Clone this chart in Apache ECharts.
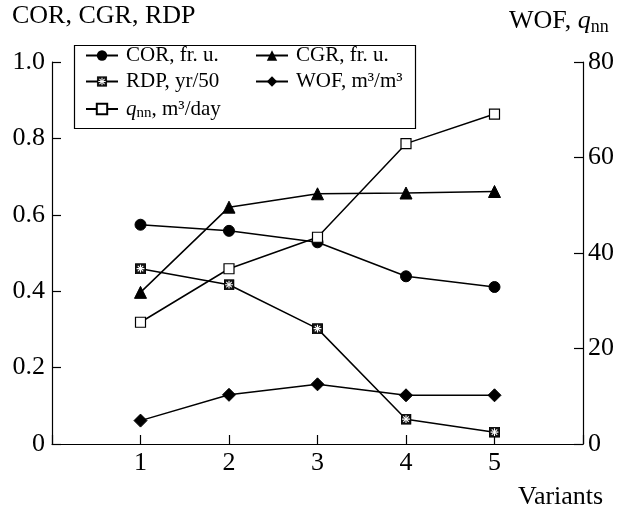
<!DOCTYPE html>
<html><head><meta charset="utf-8">
<script src="https://cdn.jsdelivr.net/npm/echarts@6/dist/echarts.min.js"></script>
<style>html,body{margin:0;padding:0;background:#fff}#c{width:623px;height:512px}</style>
</head><body><div id="c"></div>
<script>
const variants = [1, 2, 3, 4, 5];
const cor = [0.574, 0.558, 0.528, 0.439, 0.411];
const cgr = [0.397, 0.620, 0.655, 0.657, 0.661];
const rdp = [0.459, 0.417, 0.302, 0.065, 0.031];
const wof = [4.9, 10.3, 12.5, 10.2, 10.2];
const qnn = [25.5, 36.7, 43.3, 62.9, 69.1];
const leftTicks = [0, 0.2, 0.4, 0.6, 0.8, 1.0];
const rightTicks = [0, 20, 40, 60, 80];

const FONT = 'Liberation Serif';
const pts = arr => variants.map((v, i) => [v, arr[i]]);
const starSvg = "<svg xmlns='http://www.w3.org/2000/svg' width='24' height='24' viewBox='0 0 24 24'><rect x='1' y='1' width='22' height='22' fill='#111' stroke='#000' stroke-width='2'/><g stroke='#fff' stroke-width='2.4'><line x1='12' y1='3.5' x2='12' y2='20.5'/><line x1='3.5' y1='12' x2='20.5' y2='12'/><line x1='6' y1='6' x2='18' y2='18'/><line x1='18' y1='6' x2='6' y2='18'/></g></svg>";
const starSym = 'image://data:image/svg+xml;charset=utf-8,' + encodeURIComponent(starSvg);

const rich = {
  t: {fontFamily: FONT, fontSize: 21, color: '#000', lineHeight: 22},
  q: {fontFamily: FONT, fontSize: 21, fontStyle: 'italic', color: '#000', lineHeight: 22},
  sub: {fontFamily: FONT, fontSize: 15, color: '#000', lineHeight: 14, padding: [9, 0, 0, 0]}
};
const richBig = {
  t: {fontFamily: FONT, fontSize: 26, color: '#000', lineHeight: 28},
  q: {fontFamily: FONT, fontSize: 26, fontStyle: 'italic', color: '#000', lineHeight: 28},
  sub: {fontFamily: FONT, fontSize: 18, color: '#000', lineHeight: 18, padding: [11, 0, 0, 0]}
};

const lineBase = {
  type: 'line', symbolSize: 11, showSymbol: true,
  lineStyle: {color: '#000', width: 1.5},
  itemStyle: {color: '#000', borderColor: '#000'},
  emphasis: {disabled: true}, animation: false
};
const axisText = {fontFamily: FONT, fontSize: 26, color: '#000'};

const chart = echarts.init(document.getElementById('c'));
chart.setOption({
  backgroundColor: '#fff',
  animation: false,
  grid: {left: 52, right: 40, top: 62, bottom: 68},
  xAxis: {
    type: 'value', min: 0, max: 6, interval: 1,
    axisLine: {lineStyle: {color: '#000', width: 1.2}},
    axisTick: {inside: true, length: 9, lineStyle: {color: '#000', width: 1.2}},
    splitLine: {show: false},
    axisLabel: Object.assign({margin: 6,
      formatter: v => (v >= 1 && v <= 5) ? String(variants[v - 1]) : ''}, axisText)
  },
  yAxis: [{
    type: 'value', min: leftTicks[0], max: leftTicks[leftTicks.length - 1], interval: 0.2, position: 'left',
    axisLine: {show: true, lineStyle: {color: '#000', width: 1.2}},
    axisTick: {show: true, inside: true, length: 9, lineStyle: {color: '#000', width: 1.2}},
    splitLine: {show: false},
    axisLabel: Object.assign({margin: 7,
      formatter: v => v === 0 ? '0' : v.toFixed(1)}, axisText)
  }, {
    type: 'value', min: rightTicks[0], max: rightTicks[rightTicks.length - 1], interval: 20, position: 'right',
    axisLine: {show: true, lineStyle: {color: '#000', width: 1.2}},
    axisTick: {show: true, inside: true, length: 9, lineStyle: {color: '#000', width: 1.2}},
    splitLine: {show: false},
    axisLabel: Object.assign({margin: 5}, axisText)
  }],
  legend: [{
    orient: 'vertical', left: 85, top: 45, padding: 0, itemGap: 5,
    itemWidth: 32, itemHeight: 13,
    data: ['COR', 'RDP', 'QNN'],
    textStyle: {rich: rich, padding: [0, 0, 0, 3]},
    formatter: n => ({
      COR: '{t|COR, fr. u.}',
      RDP: '{t|RDP, yr/50}',
      QNN: '{q|q}{sub|nn}{t|, m³/day}'
    })[n],
    selectedMode: false
  }, {
    orient: 'vertical', left: 255, top: 45, padding: 0, itemGap: 5,
    itemWidth: 32, itemHeight: 13,
    data: ['CGR', 'WOF'],
    textStyle: {rich: rich, padding: [0, 0, 0, 3]},
    formatter: n => ({
      CGR: '{t|CGR, fr. u.}',
      WOF: '{t|WOF, m³/m³}'
    })[n],
    selectedMode: false
  }],
  graphic: [
    {type: 'rect', left: 72, top: 43, shape: {width: 341, height: 83},
      style: {fill: 'none', stroke: '#000', lineWidth: 1.2}, z: 1},
    {type: 'text', left: 12, top: 3,
      style: {text: 'COR, CGR, RDP', font: '26px "Liberation Serif"', fill: '#000'}},
    {type: 'text', left: 509, top: 7,
      style: {text: '{t|WOF, }{q|q}{sub|nn}', rich: richBig, fill: '#000'}},
    {type: 'text', left: 518, top: 484,
      style: {text: 'Variants', font: '26px "Liberation Serif"', fill: '#000'}}
  ],
  series: [
    Object.assign({}, lineBase, {name: 'COR', yAxisIndex: 0, symbol: 'circle', data: pts(cor)}),
    Object.assign({}, lineBase, {name: 'CGR', yAxisIndex: 0, symbol: 'triangle', symbolSize: 12, data: pts(cgr)}),
    Object.assign({}, lineBase, {name: 'RDP', yAxisIndex: 0, symbol: starSym, symbolSize: 11, data: pts(rdp)}),
    Object.assign({}, lineBase, {name: 'WOF', yAxisIndex: 1, symbol: 'diamond', symbolSize: 13, data: pts(wof)}),
    Object.assign({}, lineBase, {name: 'QNN', yAxisIndex: 1, symbol: 'rect', symbolSize: 10,
      itemStyle: {color: '#fff', borderColor: '#000', borderWidth: 1.2}, data: pts(qnn)})
  ]
});
</script></body></html>
